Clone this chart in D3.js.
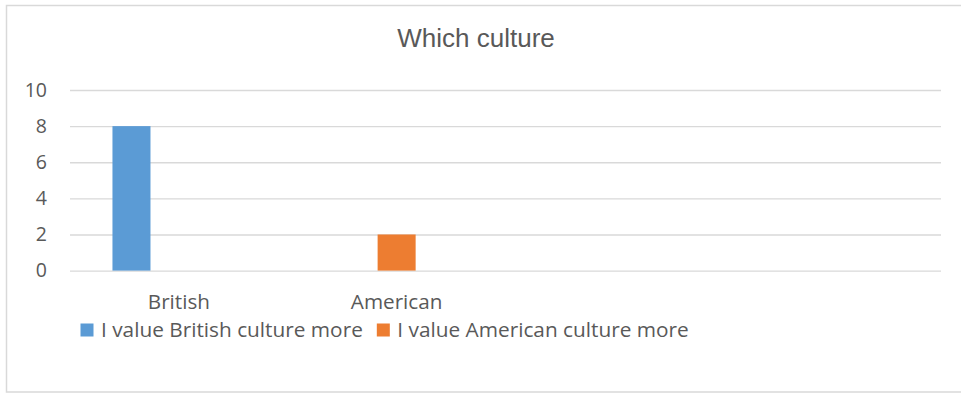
<!DOCTYPE html>
<html>
<head>
<meta charset="utf-8">
<script src="https://cdn.jsdelivr.net/npm/d3@7"></script>
<style>
  html, body { margin: 0; padding: 0; background: #ffffff; }
  svg { display: block; }
</style>
</head>
<body>
<svg id="chart" width="961" height="394"></svg>
<script>
// Chart data
const chartTitle = "Which culture";
const categories = ["British", "American", "", ""];
const seriesNames = ["I value British culture more", "I value American culture more", ""];
const britishValues = [8, null, null, null];
const americanValues = [null, 2, null, null];
const thirdValues = [null, null, null, null];
const seriesColors = ["#5b9bd5", "#ed7d31", "#a5a5a5"];
const yTicks = [0, 2, 4, 6, 8, 10];

const seriesValues = [britishValues, americanValues, thirdValues];

const svg = d3.select("#chart");
const textColor = "#595959";
const gridColor = "#d9d9d9";

// Outer chart frame
svg.append("rect")
  .attr("x", 6.5).attr("y", 5.5)
  .attr("width", 970).attr("height", 386.5)
  .attr("fill", "#ffffff")
  .attr("stroke", gridColor)
  .attr("stroke-width", 1.5);

const plot = { left: 70, right: 941, top: 90, bottom: 270.6 };

const x0 = d3.scaleBand()
  .domain(d3.range(categories.length))
  .range([plot.left, plot.right])
  .paddingInner(0).paddingOuter(0);

const groupWidth = x0.bandwidth() * 0.61;
const x1 = d3.scaleBand()
  .domain(d3.range(seriesValues.length))
  .range([-groupWidth / 2, groupWidth / 2])
  .paddingInner(0.198).paddingOuter(0);

const y = d3.scaleLinear().domain([0, 10]).range([plot.bottom, plot.top]);

// Title
svg.append("text")
  .attr("x", 476).attr("y", 46.5)
  .attr("text-anchor", "middle")
  .attr("font-family", "'Liberation Sans', Arial, sans-serif")
  .attr("font-size", 26)
  .attr("fill", textColor)
  .text(chartTitle);

// Horizontal gridlines and value labels
const yAxis = d3.axisLeft(y)
  .tickValues(yTicks)
  .tickSize(-(plot.right - plot.left))
  .tickPadding(23)
  .tickFormat(d3.format("d"));

const yg = svg.append("g")
  .attr("transform", `translate(${plot.left},0)`)
  .call(yAxis);
yg.select(".domain").remove();
yg.selectAll(".tick line")
  .attr("stroke", gridColor)
  .attr("stroke-width", 1.4);
yg.selectAll(".tick text")
  .attr("fill", textColor)
  .attr("font-family", "'Open Sans', sans-serif")
  .attr("font-size", 19.5);

// Bars
const groups = svg.append("g")
  .selectAll("g")
  .data(categories.map((c, i) => i))
  .join("g")
  .attr("transform", i => `translate(${x0(i) + x0.bandwidth() / 2},0)`);

groups.selectAll("rect")
  .data(i => seriesValues.map((vals, s) => ({ s, v: vals[i] })).filter(d => d.v != null))
  .join("rect")
  .attr("x", d => x1(d.s))
  .attr("width", x1.bandwidth())
  .attr("y", d => y(d.v))
  .attr("height", d => y(0) - y(d.v))
  .attr("fill", d => seriesColors[d.s]);

// Category labels
const xAxis = d3.axisBottom(x0)
  .tickSize(0)
  .tickPadding(0)
  .tickFormat(i => categories[i]);
const xg = svg.append("g")
  .attr("transform", `translate(0,${plot.bottom})`)
  .call(xAxis);
xg.select(".domain").remove();
xg.selectAll(".tick text")
  .attr("dy", null)
  .attr("y", 38.7)
  .attr("fill", textColor)
  .attr("font-family", "'Open Sans', sans-serif")
  .attr("font-size", 20.7);

// Legend
const legend = svg.append("g");
let lx = 80.5;
const legendBaseline = 336.5;
seriesNames.forEach((name, s) => {
  if (!name) return;
  legend.append("rect")
    .attr("x", lx).attr("y", legendBaseline - 13)
    .attr("width", 13).attr("height", 13)
    .attr("fill", seriesColors[s]);
  const t = legend.append("text")
    .attr("x", lx + 20.5).attr("y", legendBaseline)
    .attr("fill", textColor)
    .attr("font-family", "'Open Sans', sans-serif")
    .attr("font-size", 20.8)
    .text(name);
  lx += 20.5 + t.node().getComputedTextLength() + 14;
});
</script>
</body>
</html>
